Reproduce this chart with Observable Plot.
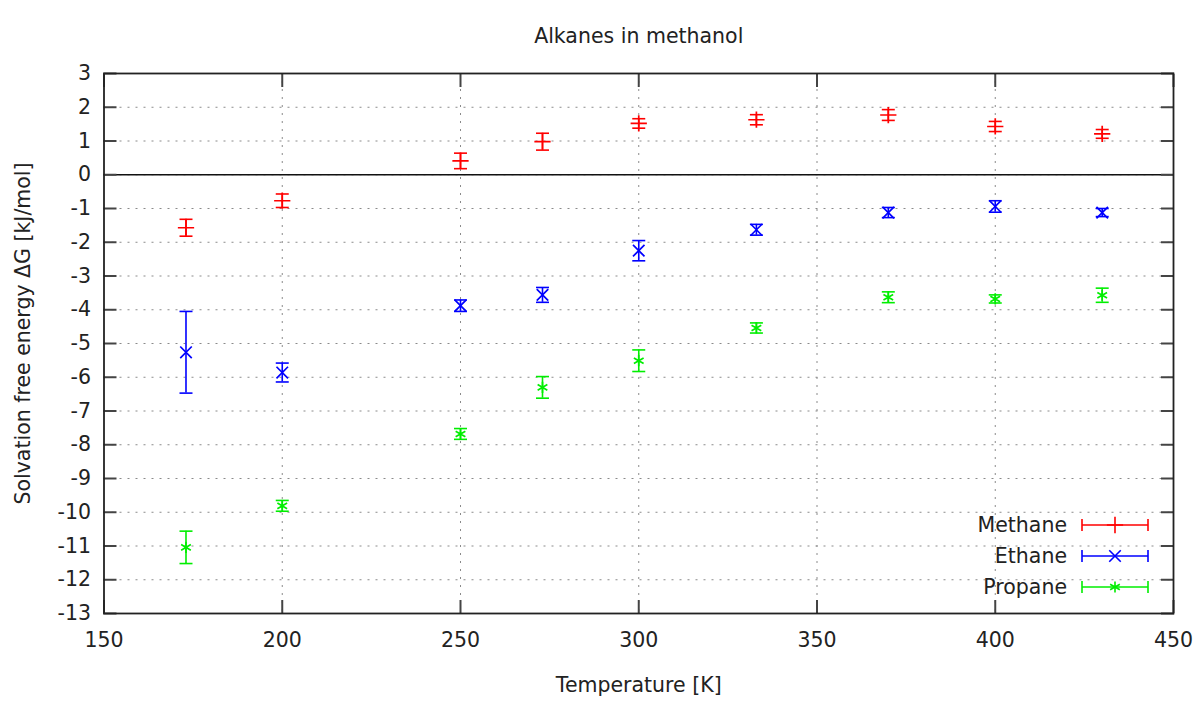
<!DOCTYPE html>
<html><head><meta charset="utf-8">
<script src="https://cdn.jsdelivr.net/npm/d3@7"></script>
<script src="https://cdn.jsdelivr.net/npm/@observablehq/plot@0.6"></script>
<style>body{margin:0;background:#fff} #chart{width:1200px;height:702px}</style>
</head><body><div id="chart"></div>
<script>
const title = "Alkanes in methanol";
const xLabel = "Temperature [K]";
const yLabel = "Solvation free energy ΔG [kJ/mol]";
const temperatures = [173, 200, 250, 273, 300, 333, 370, 400, 430];
const seriesNames = ["Methane", "Ethane", "Propane"];
const methane    = [-1.57, -0.77, 0.41, 0.98, 1.52, 1.63, 1.77, 1.43, 1.21];
const methaneErr = [0.25, 0.20, 0.23, 0.25, 0.14, 0.15, 0.16, 0.15, 0.13];
const ethane     = [-5.26, -5.86, -3.88, -3.56, -2.25, -1.63, -1.12, -0.94, -1.12];
const ethaneErr  = [1.21, 0.28, 0.17, 0.22, 0.30, 0.16, 0.15, 0.17, 0.12];
const propane    = [-11.04, -9.81, -7.68, -6.30, -5.51, -4.54, -3.63, -3.68, -3.57];
const propaneErr = [0.48, 0.16, 0.16, 0.32, 0.32, 0.15, 0.16, 0.12, 0.21];
const xTicks = [150, 200, 250, 300, 350, 400, 450];
const yTicks = d3.range(-13, 4);

const colors = ["#ff0000", "#0000ff", "#00ee00"];
const symbols = ["plus", "times", "asterisk"];
const d3Symbols = [d3.symbolPlus, d3.symbolTimes, d3.symbolAsterisk];

const values = [methane, ethane, propane];
const errs = [methaneErr, ethaneErr, propaneErr];
const rows = [];
seriesNames.forEach((name, s) => {
  temperatures.forEach((t, i) => {
    rows.push({name, t, v: values[s][i], lo: values[s][i] - errs[s][i], hi: values[s][i] + errs[s][i]});
  });
});

const capSymbol = {draw(ctx, size) { const w = Math.sqrt(size / Math.PI); ctx.moveTo(-w, 0); ctx.lineTo(w, 0); }};
const R = 5.3;
const FS = 20.5;

const W = 1200, H = 702;
const mL = 103.5, mR = 27, mT = 73, mB = 89;
const plain = d => `${d}`;

const chart = Plot.plot({
  width: W, height: H,
  marginLeft: mL, marginRight: mR, marginTop: mT, marginBottom: mB,
  style: {fontFamily: "DejaVu Sans", fontSize: FS + "px", color: "#222", background: "#fff"},
  x: {domain: [150, 450]},
  y: {domain: [-13, 3]},
  color: {domain: seriesNames, range: colors},
  symbol: {domain: seriesNames, range: symbols},
  marks: [
    Plot.gridY(yTicks, {stroke: "#8a8a8a", strokeOpacity: 1, strokeDasharray: "2,6"}),
    Plot.gridX(xTicks.slice(1, -1), {stroke: "#8a8a8a", strokeOpacity: 1, strokeDasharray: "2,6"}),
    Plot.ruleY([0], {stroke: "#111", strokeWidth: 1.6}),
    Plot.axisY(yTicks, {anchor: "left", tickSize: 0, tickPadding: 13, label: null, tickFormat: plain}),
    Plot.axisY(yTicks, {anchor: "left", tickSize: -13, tickFormat: () => "", label: null, stroke: "#444", strokeWidth: 2}),
    Plot.axisY(yTicks, {anchor: "right", tickSize: -13, tickFormat: () => "", label: null, stroke: "#444", strokeWidth: 2}),
    Plot.axisX(xTicks, {anchor: "bottom", tickSize: 0, tickPadding: 19, label: null, tickFormat: plain}),
    Plot.axisX(xTicks, {anchor: "bottom", tickSize: -13, tickFormat: () => "", label: null, stroke: "#444", strokeWidth: 2}),
    Plot.axisX(xTicks, {anchor: "top", tickSize: -13, tickFormat: () => "", label: null, stroke: "#444", strokeWidth: 2}),
    Plot.frame({stroke: "#222", strokeWidth: 1.8}),
    Plot.ruleX(rows, {x: "t", y1: "lo", y2: "hi", stroke: "name", strokeWidth: 1.6}),
    Plot.dot(rows, {x: "t", y: "lo", symbol: capSymbol, r: 6.5, stroke: "name", strokeWidth: 1.6}),
    Plot.dot(rows, {x: "t", y: "hi", symbol: capSymbol, r: 6.5, stroke: "name", strokeWidth: 1.6}),
    Plot.dot(rows, {x: "t", y: "v", symbol: "name", stroke: "name", r: R, strokeWidth: 1.7}),
    Plot.text([title], {frameAnchor: "top", dy: -45, fill: "#222"}),
    Plot.text([xLabel], {frameAnchor: "bottom", dy: 78, fill: "#222"}),
    Plot.text([yLabel], {frameAnchor: "left", textAnchor: "middle", dx: -81, dy: -10, rotate: -90, fill: "#222"})
  ]
});
document.getElementById("chart").appendChild(chart);

// Legend (inside plot, bottom right)
const svg = d3.select(chart);
const lg = svg.append("g").attr("font-family", "DejaVu Sans").attr("font-size", FS);
const lgTextX = 1067, lgX1 = 1082, lgX2 = 1148, lgY0 = 525, lgDY = 31;
seriesNames.forEach((name, s) => {
  const y = lgY0 + s * lgDY;
  lg.append("text").attr("x", lgTextX).attr("y", y).attr("dy", "0.35em")
    .attr("text-anchor", "end").attr("fill", "#222").text(name);
  const g = lg.append("g").attr("stroke", colors[s]).attr("stroke-width", 1.6).attr("fill", "none");
  g.append("line").attr("x1", lgX1).attr("x2", lgX2).attr("y1", y).attr("y2", y);
  g.append("line").attr("x1", lgX1).attr("x2", lgX1).attr("y1", y - 6).attr("y2", y + 6);
  g.append("line").attr("x1", lgX2).attr("x2", lgX2).attr("y1", y - 6).attr("y2", y + 6);
  g.append("path").attr("transform", `translate(${(lgX1 + lgX2) / 2},${y})`)
    .attr("d", d3.symbol(d3Symbols[s], R * R * Math.PI)());
});
</script>
</body></html>
